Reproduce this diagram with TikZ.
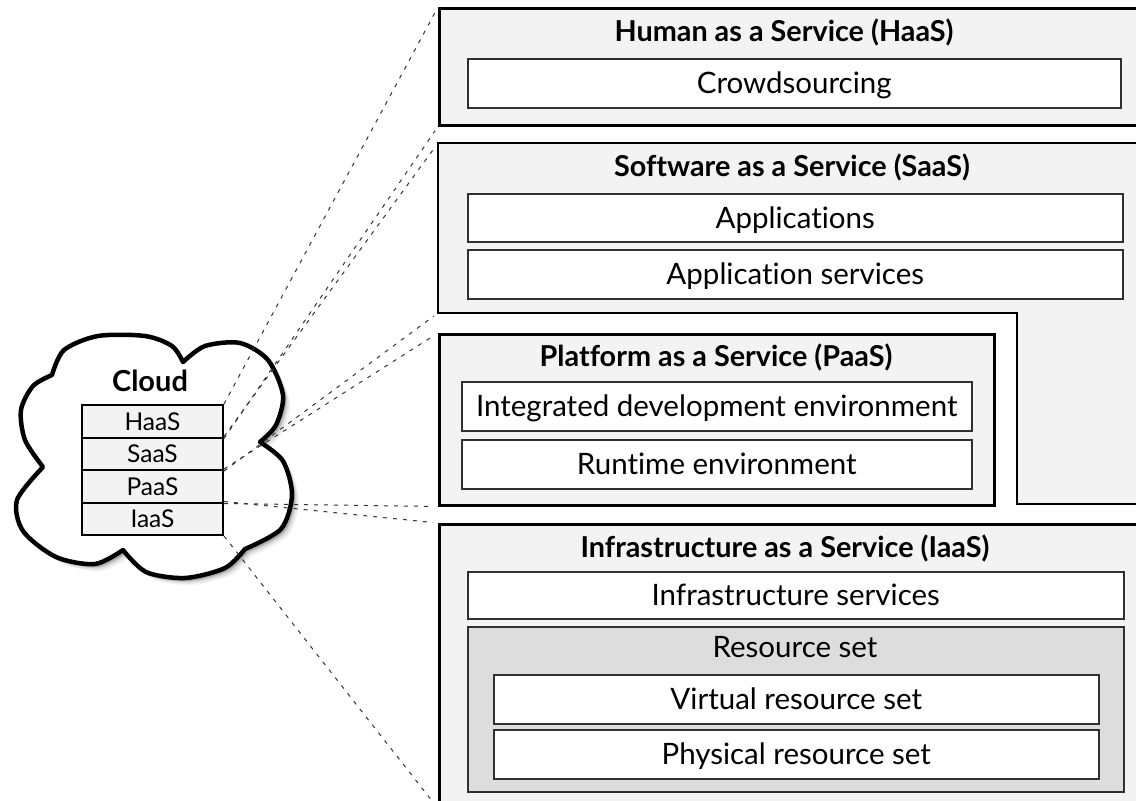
\documentclass[tikz,border=0pt]{standalone}
\usepackage{fontspec}
\setmainfont{Lato}[Ligatures=NoCommon]
\usetikzlibrary{positioning}

\definecolor{boxgray}{HTML}{F3F3F3}
\definecolor{resgray}{HTML}{DDDDDD}
\definecolor{innerline}{HTML}{303030}

\newcommand\lblfont{\fontsize{29.5}{34}\selectfont}
\newcommand\ttlfont{\fontsize{28.8}{33}\selectfont\bfseries}
\newcommand\cellfont{\fontsize{24.5}{28}\selectfont}

% outline of the cloud, one smooth run per puff
\newcommand\cloudpath{%
  plot[smooth] coordinates {(43,467) (25,440) (21,410) (33,386) (52,375)}
  -- plot[smooth] coordinates {(52,375) (64,350) (98,336) (145,336) (172,346) (183,362)}
  -- plot[smooth] coordinates {(183,362) (205,346) (240,343) (268,360) (283,395) (276,425) (260,442)}
  -- plot[smooth] coordinates {(260,442) (283,461) (292,495) (281,529) (245,549)}
  -- plot[smooth] coordinates {(245,549) (225,568) (185,578) (146,572) (123,550)}
  -- plot[smooth] coordinates {(123,550) (95,564) (56,557) (23,531) (17,500) (43,467)}
  -- cycle}

\tikzset{
  outerbox/.style={draw=black, line width=2.5pt, fill=boxgray, rectangle, inner sep=0pt, anchor=north west},
  innerbox/.style={draw=innerline, line width=1.5pt, fill=white, rectangle, inner sep=0pt,
    anchor=north west, font=\lblfont, text height=21pt, text depth=0pt},
  resbox/.style={innerbox, fill=resgray},
  ttl/.style={font=\ttlfont, anchor=base, inner sep=0pt},
  lbl/.style={font=\lblfont, anchor=base, inner sep=0pt},
  cell/.style={draw=black, line width=2pt, fill=boxgray, rectangle, inner sep=0pt,
    anchor=north west, minimum width=141pt, minimum height=32.5pt, font=\cellfont,
    text height=17.5pt, text depth=0pt},
  link/.style={draw=black!80, line width=1pt, dash pattern=on 4pt off 6pt, shorten >=5pt}
}

\begin{document}
\begin{tikzpicture}[x=1pt, y=-1pt]
\useasboundingbox (0,0) rectangle (1136,801);
\clip (0,0) rectangle (1136,801);

% ---- service layers ----
\node[outerbox, minimum width=760pt, minimum height=117pt] (haas) at (438,7) {};
\node[ttl] (haasT) at (784,41) {Human as a Service (HaaS)};
\node[innerbox, minimum width=653pt, minimum height=49pt] (crowd) at (467,58) {Crowdsourcing};

\coordinate (saasTL) at (438,143);
\coordinate (saasBL) at (438,313);
\draw[line width=2.5pt, fill=boxgray] (saasTL) -- (1200,143) -- (1200,504) -- (1017,504)
  -- (1017,313) -- (saasBL) -- cycle;
\node[ttl] (saasT) at (792,176) {Software as a Service (SaaS)};
\node[innerbox, minimum width=655pt, minimum height=48pt] (apps) at (467,193) {Applications};
\node[innerbox, minimum width=655pt, minimum height=49pt] (appsrv) at (467,249) {Application services};

\node[outerbox, minimum width=555pt, minimum height=171pt] (paas) at (438,333) {};
\node[ttl] (paasT) at (716,366) {Platform as a Service (PaaS)};
\node[innerbox, minimum width=510pt, minimum height=49pt] (ide) at (461,381) {Integrated development environment};
\node[innerbox, minimum width=510pt, minimum height=49pt] (rte) at (461,439) {Runtime environment};

\node[outerbox, minimum width=760pt, minimum height=283pt] (iaas) at (438,523) {};
\node[ttl] (iaasT) at (785,557) {Infrastructure as a Service (IaaS)};
\node[innerbox, minimum width=656pt, minimum height=47pt] (infsrv) at (467,571) {Infrastructure services};
\node[resbox, minimum width=656pt, minimum height=165pt] (res) at (467,626) {};
\node[lbl] (resT) at (795,657) {Resource set};
\node[innerbox, minimum width=605pt, minimum height=49pt] (virt) at (493,674) {Virtual resource set};
\node[innerbox, minimum width=605pt, minimum height=49pt] (phys) at (493,729) {Physical resource set};

% ---- cloud with a soft shadow ----
\foreach \s/\o in {7/0.05, 5.5/0.07, 4/0.10, 3/0.14}{
  \fill[black, opacity=\o, shift={(\s,\s)}] \cloudpath;
}
\draw[line width=4.5pt, fill=white, line join=round] \cloudpath;
\node[anchor=base, inner sep=0pt, font=\fontsize{29}{33}\selectfont\bfseries] (cloud) at (150,391) {Cloud};

% ---- stack inside the cloud ----
\node[cell] (hC) at (81,404) {HaaS};
\node[cell] (sC) at (81,436.5) {SaaS};
\node[cell] (pC) at (81,469) {PaaS};
\node[cell] (iC) at (81,501.5) {IaaS};

% ---- links from each entry to its layer ----
\draw[link] (hC.north east) -- (haas.north west);
\draw[link] (hC.south east) -- (haas.south west);
\draw[link] (sC.north east) -- (saasTL);
\draw[link] (sC.south east) -- (saasBL);
\draw[link] (pC.north east) -- (paas.north west);
\draw[link] (pC.south east) -- (paas.south west);
\draw[link] (iC.north east) -- (iaas.north west);
\draw[link] (iC.south east) -- (iaas.south west);
\end{tikzpicture}
\end{document}
